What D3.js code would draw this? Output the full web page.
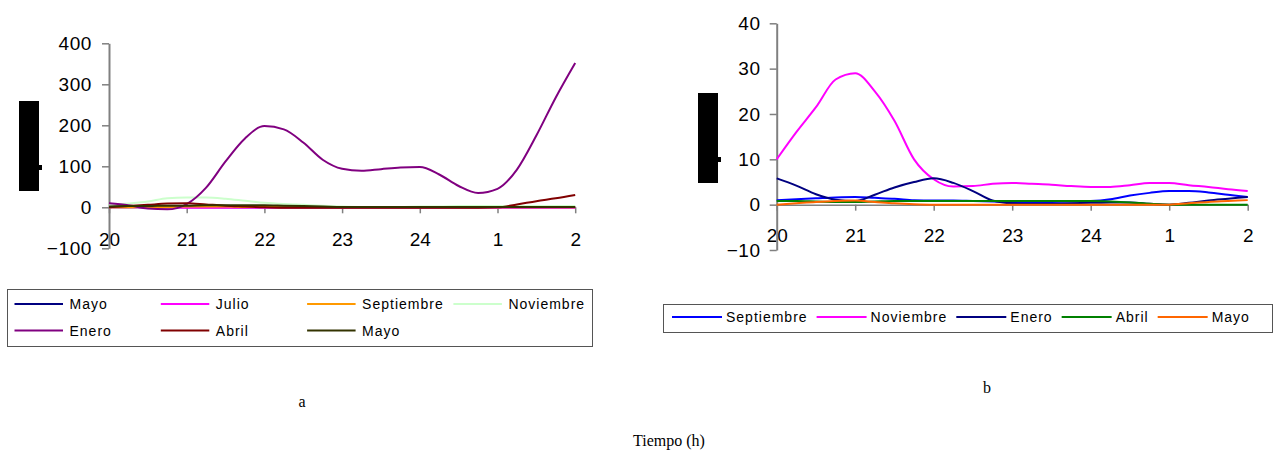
<!DOCTYPE html>
<html>
<head>
<meta charset="utf-8">
<script src="https://cdn.jsdelivr.net/npm/d3@7"></script>
<style>
  body { margin: 0; background: #fff; }
  svg { display: block; }
</style>
</head>
<body>
<svg id="fig" width="1276" height="455"></svg>
<script>
// Sampling times, in hours after 20:00
const hours = [0,0.25,0.5,0.75,1,1.25,1.5,1.75,2,2.25,2.5,2.75,3,3.25,3.5,3.75,4,4.25,4.5,4.75,5,5.25,5.5,5.75,6];
const hourTicks = [0,1,2,3,4,5,6];
const hourLabels = ["20","21","22","23","24","1","2"];

// Panel a
const namesA = ["Mayo","Julio","Septiembre","Noviembre","Enero","Abril","Mayo"];
const mayoA       = [1,1,1,1,1,1,1,1,1,1,1,1,0,0,0,0,0,0,0,0,0,0,0,0,0];
const julioA      = [0,0,0,0,-1,-1,-1,-1,-1,-1,-1,-1,-1,-1,-1,-1,-1,-1,-1,-1,-1,-1,-1,-1,-1];
const septiembreA = [0,0,1,1,2,2,2,1,1,0,0,0,0,0,0,0,0,0,0,0,0,0,0,0,0];
const noviembreA  = [5,9,14,22,24,24,21,16,11,8,6,4,2,1,1,1,2,2,3,3,3,3,3,3,3];
const eneroA      = [10,5,-3,-5,8,48,112,168,198,190,158,116,94,89,93,97,98,80,52,35,45,92,175,268,352];
const abrilA      = [0,3,6,9,10,7,4,2,0,-1,-1,-1,-1,-1,-1,-1,-1,-1,-1,-1,0,7,15,22,30];
const mayo2A      = [2,3,3,4,4,5,5,5,5,4,3,2,1,1,1,1,1,1,1,1,1,1,1,1,1];
const yTicksA = [-100,0,100,200,300,400];

// Panel b
const namesB = ["Septiembre","Noviembre","Enero","Abril","Mayo"];
const septiembreB = [1.0,1.2,1.4,1.6,1.7,1.5,1.3,1.0,0.9,0.9,0.8,0.7,0.6,0.5,0.6,0.7,0.8,1.2,2.0,2.6,3.0,3.0,2.7,2.2,1.7];
const noviembreB  = [10,16,21.5,27.6,29,25,18.5,10,5.6,4,4.1,4.6,4.8,4.6,4.4,4.1,3.9,3.9,4.3,4.8,4.8,4.3,3.9,3.4,3.0];
const eneroB      = [5.8,4.2,2.3,1.1,0.8,2.2,3.8,5.0,5.8,4.8,3.0,0.9,0.3,0.2,0.2,0.3,0.4,0.5,0.5,0.2,0,0.4,0.9,1.3,1.7];
const abrilB      = [0.8,0.8,0.7,0.6,0.6,0.7,0.8,0.8,0.8,0.8,0.8,0.8,0.8,0.8,0.8,0.8,0.8,0.7,0.5,0.2,0,0,0,0,0];
const mayoB       = [0,0.3,0.6,0.8,0.9,0.6,0.3,0.1,0,0,0,0,0,0,0,0,0,0,0,0,0,0.3,0.6,0.8,1.0];
const yTicksB = [-10,0,10,20,30,40];

// Line colours, in series order
const coloursA = ["#000080","#ff00ff","#ff9900","#ccffcc","#800080","#800000","#333300"];
const coloursB = ["#0000ff","#ff00ff","#000080","#008000","#ff6600"];

const SANS = "'Liberation Sans', Arial, sans-serif";
const SERIF = "'Liberation Serif', 'Times New Roman', serif";
const AXIS = "#808080";

const svg = d3.select("#fig");
svg.append("rect").attr("width", 1276).attr("height", 455).attr("fill", "#fff");

function panel(cfg) {
  const x = d3.scaleLinear().domain([0, 6]).range(cfg.xr);
  const y = d3.scaleLinear().domain(d3.extent(cfg.yTicks)).range(cfg.yr);
  const g = svg.append("g");

  // horizontal axis through zero, ticks hanging below it
  const xa = g.append("g").attr("transform", `translate(0,${y(0)})`)
    .call(d3.axisBottom(x).tickValues(hourTicks).tickFormat((d, i) => hourLabels[i])
      .tickSize(6).tickSizeOuter(0));
  xa.select(".domain").attr("stroke", AXIS).attr("stroke-width", 1.5);
  xa.selectAll(".tick line").attr("stroke", AXIS).attr("stroke-width", 1.5);
  xa.selectAll(".tick text").attr("y", cfg.xLabelOff).attr("dy", "0.35em")
    .attr("font-family", SANS).attr("font-size", 19).attr("fill", "#000");

  // vertical axis
  const ya = g.append("g").attr("transform", `translate(${x(0)},0)`)
    .call(d3.axisLeft(y).tickValues(cfg.yTicks).tickSize(7).tickSizeOuter(0).tickPadding(cfg.yPad));
  ya.select(".domain").attr("stroke", AXIS).attr("stroke-width", 2);
  ya.selectAll(".tick line").attr("stroke", AXIS).attr("stroke-width", 1.5);
  ya.selectAll(".tick text").attr("font-family", SANS).attr("font-size", 19)
    .attr("fill", "#000").attr("letter-spacing", 0.6);
  g.selectAll(".domain, .tick").raise();

  const line = d3.line().x((d, i) => x(hours[i])).y(d => y(d)).curve(d3.curveMonotoneX);
  cfg.series.forEach((s, k) => {
    g.append("path").datum(s).attr("d", line).attr("fill", "none")
      .attr("stroke", cfg.colours[k]).attr("stroke-width", 2).attr("stroke-linejoin", "round");
  });
  // keep the tick labels above the curves
  g.selectAll(".tick text").raise();
}

panel({
  xr: [109, 575.2], yr: [248.3, 43.3], yTicks: yTicksA, yPad: 10, xLabelOff: 32,
  series: [mayoA, julioA, septiembreA, noviembreA, eneroA, abrilA, mayo2A], colours: coloursA
});
panel({
  xr: [776.7, 1247.7], yr: [250, 23.3], yTicks: yTicksB, yPad: 9, xLabelOff: 31,
  series: [septiembreB, noviembreB, eneroB, abrilB, mayoB], colours: coloursB
});

// masked axis titles
svg.append("rect").attr("x", 19).attr("y", 101).attr("width", 20).attr("height", 90).attr("fill", "#000");
svg.append("rect").attr("x", 39).attr("y", 165).attr("width", 3).attr("height", 5).attr("fill", "#000");
svg.append("rect").attr("x", 698).attr("y", 93).attr("width", 20).attr("height", 90).attr("fill", "#000");
svg.append("rect").attr("x", 718).attr("y", 157).attr("width", 3).attr("height", 5).attr("fill", "#000");

// legend of panel a: four columns, two rows
const legA = svg.append("g");
legA.append("rect").attr("x", 7.5).attr("y", 289.5).attr("width", 585).attr("height", 57)
  .attr("fill", "#fff").attr("stroke", "#555").attr("stroke-width", 1);
namesA.forEach((n, i) => {
  const cx = 14.5 + (i % 4) * 146.3, cy = 304 + Math.floor(i / 4) * 26.5;
  legA.append("line").attr("x1", cx).attr("x2", cx + 48.5).attr("y1", cy).attr("y2", cy)
    .attr("stroke", coloursA[i]).attr("stroke-width", 2);
  legA.append("text").attr("x", cx + 55).attr("y", cy).attr("dy", "0.36em")
    .attr("font-family", SANS).attr("font-size", 14).attr("letter-spacing", 1).text(n);
});

// legend of panel b: one row, entries flow left to right
const legB = svg.append("g");
legB.append("rect").attr("x", 663.5).attr("y", 304.5).attr("width", 609).attr("height", 28)
  .attr("fill", "#fff").attr("stroke", "#555").attr("stroke-width", 1);
let lx = 672;
namesB.forEach((n, i) => {
  const cy = 317;
  legB.append("line").attr("x1", lx).attr("x2", lx + 50).attr("y1", cy).attr("y2", cy)
    .attr("stroke", coloursB[i]).attr("stroke-width", 2);
  const t = legB.append("text").attr("x", lx + 54).attr("y", cy).attr("dy", "0.36em")
    .attr("font-family", SANS).attr("font-size", 14).attr("letter-spacing", 1).text(n);
  lx += 54 + t.node().getComputedTextLength() + 9;
});

// panel captions and shared time label
svg.append("text").attr("x", 302).attr("y", 407).attr("text-anchor", "middle")
  .attr("font-family", SERIF).attr("font-size", 16).text("a");
svg.append("text").attr("x", 987).attr("y", 393).attr("text-anchor", "middle")
  .attr("font-family", SERIF).attr("font-size", 16).text("b");
svg.append("text").attr("x", 669).attr("y", 446).attr("text-anchor", "middle")
  .attr("font-family", SERIF).attr("font-size", 16).text("Tiempo (h)");
</script>
</body>
</html>
